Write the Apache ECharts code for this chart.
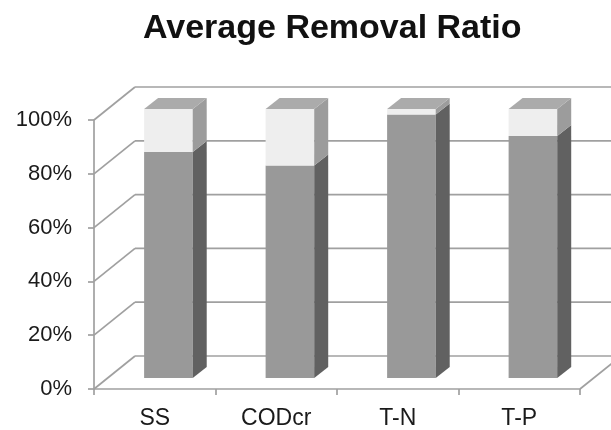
<!DOCTYPE html>
<html>
<head>
<meta charset="utf-8">
<script src="https://cdn.jsdelivr.net/npm/echarts@6/dist/echarts.min.js"></script>
<style>
  html, body { margin: 0; padding: 0; background: #ffffff; }
  #chart { width: 611px; height: 430px; }
</style>
</head>
<body>
<div id="chart"></div>
<script>
// Average removal ratio per parameter (percent), stacked to 100%
const categories = ['SS', 'CODcr', 'T-N', 'T-P'];
const removed = [84, 79, 98, 90];
const remaining = [16, 21, 2, 10];
const yTicks = [0, 20, 40, 60, 80, 100];

// Pseudo-3D depth of the chart box (pixels)
const DX = 41, DY = 33;
// Bars sit one third into the box and are one third deep
const BAR_OFF_X = DX / 3, BAR_OFF_Y = DY / 3;
const BAR_DX = 14, BAR_DY = 11;
const LINE = '#a0a0a0';
const FONT = "'Liberation Sans', Arial, sans-serif";

const chart = echarts.init(document.getElementById('chart'), null, { renderer: 'canvas' });

function line(x1, y1, x2, y2) {
  return {
    type: 'line',
    shape: { x1: x1, y1: y1, x2: x2, y2: y2 },
    style: { stroke: LINE, lineWidth: 1.7 }
  };
}

// Back wall gridlines, left wall diagonals and floor edge
function renderFrame(params, api) {
  const v = api.value(1);
  const p = api.coord([0, v]);
  const band = api.size([1, 0])[0];
  const xl = p[0] - band / 2;
  const xr = xl + band * categories.length;
  const y = p[1];
  const children = [
    line(xl, y, xl + DX, y - DY),
    line(xl + DX, y - DY, xr + DX, y - DY)
  ];
  if (v === 0) children.push(line(xr, y, xr + DX, y - DY));
  return { type: 'group', children: children };
}

function poly(points, fill) {
  return { type: 'polygon', shape: { points: points }, style: { fill: fill } };
}

// One stacked box per category: front, side and top faces
function renderBar(params, api) {
  const i = api.value(0);
  const low = api.value(1);
  const high = low + api.value(2);
  const band = api.size([1, 0])[0];
  const c = api.coord([i, 0]);
  const w = band * 0.4;
  const xl = c[0] - w / 2 + BAR_OFF_X;
  const xr = xl + w;
  const y0 = c[1] - BAR_OFF_Y;
  const ym = api.coord([i, low])[1] - BAR_OFF_Y;
  const yt = api.coord([i, high])[1] - BAR_OFF_Y;
  return {
    type: 'group',
    children: [
      poly([[xl, y0], [xr, y0], [xr, ym], [xl, ym]], '#999999'),
      poly([[xl, ym], [xr, ym], [xr, yt], [xl, yt]], '#eeeeee'),
      poly([[xr, y0], [xr + BAR_DX, y0 - BAR_DY], [xr + BAR_DX, ym - BAR_DY], [xr, ym]], '#616161'),
      poly([[xr, ym], [xr + BAR_DX, ym - BAR_DY], [xr + BAR_DX, yt - BAR_DY], [xr, yt]], '#9c9c9c'),
      poly([[xl, yt], [xr, yt], [xr + BAR_DX, yt - BAR_DY], [xl + BAR_DX, yt - BAR_DY]], '#ababab')
    ]
  };
}

chart.setOption({
  backgroundColor: '#ffffff',
  animation: false,
  title: {
    text: 'Average Removal Ratio',
    left: 143,
    top: 12,
    padding: 0,
    textStyle: { fontFamily: FONT, fontSize: 34, fontWeight: 'bold', color: '#111111' }
  },
  grid: { left: 94, right: 31, top: 120, bottom: 41 },
  xAxis: {
    type: 'category',
    data: categories,
    axisLine: { lineStyle: { color: LINE, width: 1.7 } },
    axisTick: { show: true, length: 6, alignWithLabel: false, lineStyle: { color: LINE, width: 1.7 } },
    axisLabel: { fontFamily: FONT, fontSize: 23, color: '#1a1a1a', margin: 18 },
    splitLine: { show: false }
  },
  yAxis: {
    type: 'value',
    min: 0,
    max: 100,
    interval: 20,
    axisLine: { show: true, lineStyle: { color: LINE, width: 1.7 } },
    axisTick: { show: true, length: 6, lineStyle: { color: LINE, width: 1.7 } },
    axisLabel: { fontFamily: FONT, fontSize: 22, color: '#1a1a1a', margin: 22, padding: [6, 0, 0, 0], formatter: '{value}%' },
    splitLine: { show: false }
  },
  series: [
    {
      name: 'frame',
      type: 'custom',
      clip: false,
      z: 1,
      silent: true,
      renderItem: renderFrame,
      encode: { x: 0, y: 1 },
      data: yTicks.map(function (v) { return [0, v]; })
    },
    {
      name: 'ratio',
      type: 'custom',
      clip: false,
      z: 3,
      renderItem: renderBar,
      encode: { x: 0, y: 1 },
      data: categories.map(function (c, i) { return [i, removed[i], remaining[i]]; })
    }
  ]
});
</script>
</body>
</html>
